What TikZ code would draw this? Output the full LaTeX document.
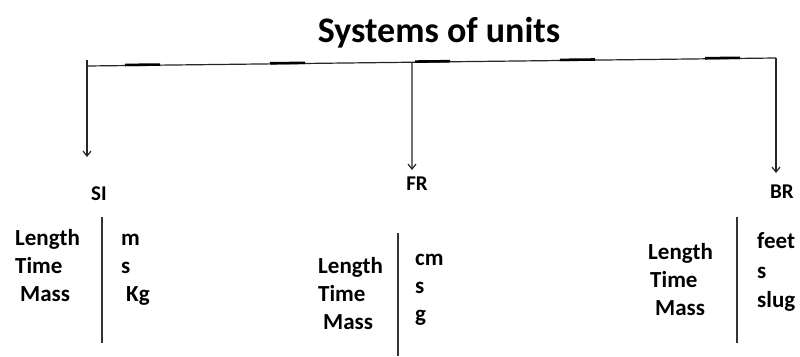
\documentclass[tikz,border=0pt]{standalone}
\usepackage{fontspec}
\setmainfont{Carlito}
\usetikzlibrary{arrows.meta,calc}
\begin{document}
\begin{tikzpicture}[x=1pt,y=-1pt,
  lbl/.style={inner sep=0pt, anchor=base west, font=\fontsize{23}{28}\selectfont\bfseries},
  sys/.style={inner sep=0pt, anchor=base, font=\fontsize{21}{25}\selectfont\bfseries},
  conn/.style={line width=1.2pt, draw=black!85},
  sepline/.style={line width=1.4pt, draw=black!80},
  arr/.style={conn, -{Straight Barb[length=5pt,width=8pt]}},
  heavy/.style={line width=2.6pt, draw=black}]
\useasboundingbox[fill=white] (0,0) rectangle (800,356);

% title
\node[anchor=base, inner sep=0pt, font=\fontsize{36}{42}\selectfont\bfseries] (title) at (439,42) {Systems of units};

% tree connectors
\coordinate (hl) at (87,66);
\coordinate (hr) at (776,58);
\coordinate (ltop) at (87,60);
\coordinate (ltip) at (87,157);
\coordinate (mtop) at ($(hl)!0.4717!(hr)$);
\coordinate (mtip) at (412,170);
\coordinate (rtip) at (776,173);

\draw[conn] (hl) -- (hr);
\foreach \a/\b in {0.0552/0.1060, 0.2656/0.3164, 0.4761/0.5269, 0.6865/0.7373, 0.8970/0.9478}
  \draw[heavy] ($(hl)!\a!(hr)+(0,-0.6)$) -- ($(hl)!\b!(hr)+(0,-0.6)$);
\draw[arr] (ltop) -- (ltip);
\draw[arr] (mtop) -- (mtip);
\draw[arr] (hr) -- (rtip);

% system names
\node[sys] (si) at (99,200) {SI};
\node[sys] (fr) at (417,190) {FR};
\node[sys] (br) at (782,198) {BR};

% SI block
\node[lbl] (siL) at (15,245) {Length};
\node[lbl] (siT) at (15,273) {Time};
\node[lbl] (siM) at (20,301) {Mass};
\coordinate (sia) at (102,217);
\coordinate (sib) at (102,343);
\draw[sepline] (sia) -- (sib);
\node[lbl] (siu1) at (121,245) {m};
\node[lbl] (siu2) at (121,273) {s};
\node[lbl] (siu3) at (126,301) {Kg};

% FR block
\node[lbl] (frL) at (318,273) {Length};
\node[lbl] (frT) at (318,301) {Time};
\node[lbl] (frM) at (323,329) {Mass};
\coordinate (fra) at (398,233);
\coordinate (frb) at (398,356);
\draw[sepline] (fra) -- (frb);
\node[lbl] (fru1) at (415,265) {cm};
\node[lbl] (fru2) at (415,293) {s};
\node[lbl] (fru3) at (415,321) {g};

% BR block
\node[lbl] (brL) at (648,259) {Length};
\node[lbl] (brT) at (650,287) {Time};
\node[lbl] (brM) at (655,315) {Mass};
\coordinate (bra) at (737,217);
\coordinate (brb) at (737,343);
\draw[sepline] (bra) -- (brb);
\node[lbl] (bru1) at (757,248) {feet};
\node[lbl] (bru2) at (757,278) {s};
\node[lbl] (bru3) at (757,307) {slug};
\end{tikzpicture}
\end{document}
